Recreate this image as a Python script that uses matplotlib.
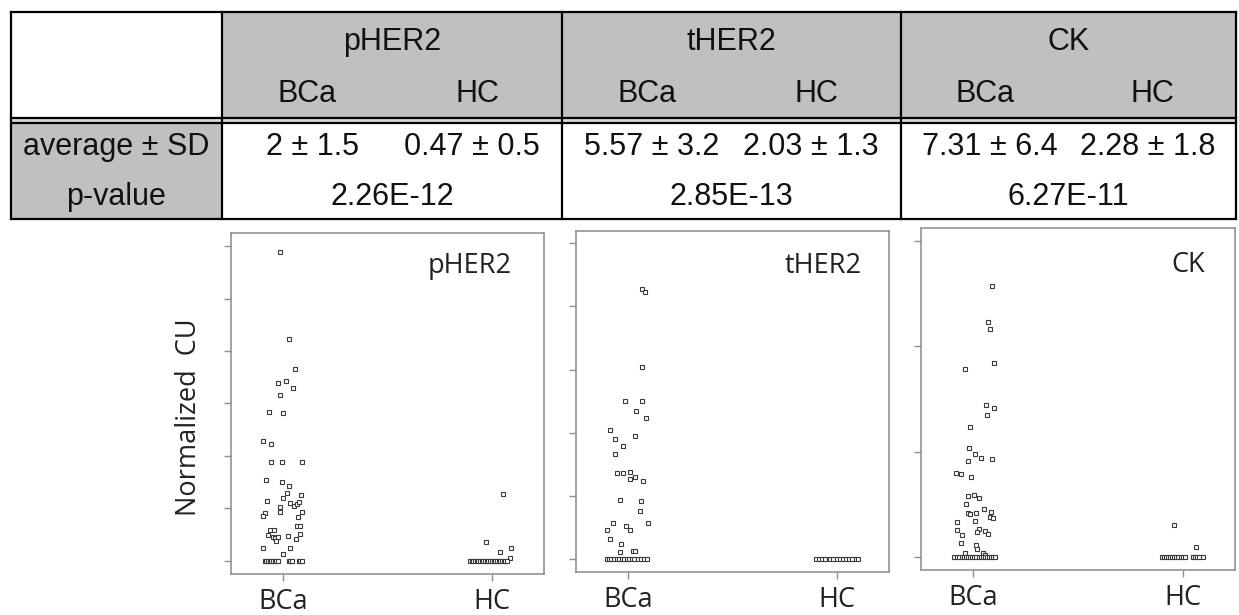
import matplotlib
matplotlib.use("Agg")
import matplotlib.pyplot as plt
from matplotlib.patches import Rectangle

# ---- table values ----
markers = ["pHER2", "tHER2", "CK"]
groups = ["BCa", "HC"]
bca_mean = [2, 5.57, 7.31]
bca_sd = [1.5, 3.2, 6.4]
hc_mean = [0.47, 2.03, 2.28]
hc_sd = [0.5, 1.3, 1.8]
p_values = ["2.26E-12", "2.85E-13", "6.27E-11"]

# ---- scatter values (y = normalized CU, jitter = horizontal offset) ----
pher2_bca_y = [5.88, 4.23, 3.66, 3.40, 3.43, 3.30, 3.17, 2.84, 2.81, 2.29, 2.22, 1.88, 1.89, 1.89,
               1.55, 1.50, 1.43, 1.30, 1.20, 1.26, 1.15, 1.11, 1.05, 1.09, 1.12, 1.03, 0.94, 0.92,
               0.86, 0.94, 0.84, 0.67, 0.66, 0.58, 0.58, 0.50, 0.46, 0.43, 0.46, 0.48, 0.51, 0.42,
               0.37, 0.24, 0.25, 0.13,
               0, 0, 0, 0, 0, 0, 0, 0, 0, 0, 0, 0, 0, 0, 0]
pher2_bca_jit = [-0.016, 0.026, 0.058, -0.027, 0.014, 0.048, -0.013, -0.070, -0.003, -0.096, -0.058,
                 -0.059, -0.005, 0.091, -0.082, -0.006, 0.029, 0.018, -0.003, 0.085, -0.078, 0.035,
                 0.051, 0.064, 0.075, -0.013, -0.013, -0.086, -0.098, 0.091, 0.069, 0.064, 0.082,
                 -0.061, -0.046, -0.072, -0.051, -0.040, -0.024, 0.024, 0.080, 0.061, -0.035,
                 -0.096, 0.035, -0.003,
                 -0.088, -0.080, -0.072, -0.064, -0.056, -0.048, -0.040, -0.032, -0.024,
                 0.027, 0.035, 0.043, 0.075, 0.083, 0.091]
pher2_hc_y = [1.28, 0.36, 0.25, 0.17, 0.05,
              0, 0, 0, 0, 0, 0, 0, 0, 0, 0, 0, 0, 0, 0, 0, 0, 0, 0, 0, 0, 0, 0, 0]
pher2_hc_jit = [0.053, -0.030, 0.094, 0.038, 0.085,
                -0.104, -0.096, -0.088, -0.080, -0.072, -0.064, -0.056, -0.048, -0.040, -0.032,
                -0.024, -0.016, -0.008, 0.000, 0.008, 0.016, 0.024, 0.032, 0.040, 0.048, 0.056,
                0.064, 0.072]

ther2_bca_y = [21.35, 21.15, 15.2, 12.55, 12.55, 11.7, 11.15, 10.2, 9.75, 9.55, 8.95, 8.35, 6.85,
               6.85, 6.9, 6.35, 6.5, 6.2, 4.7, 4.65, 3.8, 2.85, 2.9, 2.6, 2.3, 2.3, 1.6, 1.25,
               0.55, 0.65, 0.65,
               0, 0, 0, 0, 0, 0, 0, 0, 0, 0, 0, 0, 0, 0, 0, 0]
ther2_bca_jit = [0.066, 0.082, 0.066, -0.014, 0.067, 0.037, 0.085, -0.087, 0.034, -0.061, -0.027,
                 -0.063, -0.053, -0.027, 0.011, 0.008, 0.032, 0.069, -0.039, 0.061, 0.058, -0.075,
                 0.096, -0.008, 0.010, -0.100, -0.087, -0.034, -0.040, 0.024, 0.034,
                 -0.100, -0.090, -0.080, -0.066, -0.055, -0.045, -0.030, -0.020, -0.005, 0.005,
                 0.020, 0.030, 0.045, 0.060, 0.075, 0.088]
ther2_hc_y = [0, 0, 0, 0, 0, 0, 0, 0, 0, 0, 0, 0, 0, 0]
ther2_hc_jit = [-0.100, -0.085, -0.070, -0.055, -0.035, -0.020, 0.000, 0.015, 0.030, 0.045, 0.060,
                0.075, 0.090, 0.100]

ck_bca_y = [25.7, 22.3, 21.6, 18.4, 17.8, 14.4, 14.1, 13.5, 12.3, 10.3, 9.8, 9.4, 9.3, 9.1, 8.0,
            7.9, 7.6, 5.8, 5.9, 5.6, 5.0, 4.6, 4.3, 4.2, 4.1, 4.2, 3.8, 3.7, 3.3, 3.4, 2.6, 2.7,
            2.4, 2.5, 2.2, 2.1, 1.3, 1.1, 0.8, 0.4, 0.4, 0.2,
            0, 0, 0, 0, 0, 0, 0, 0, 0, 0, 0, 0, 0, 0, 0, 0, 0, 0, 0, 0]
ck_bca_jit = [0.088, 0.069, 0.079, 0.100, -0.039, 0.059, 0.098, 0.063, -0.018, -0.019, 0.006,
              0.039, 0.087, -0.024, -0.084, -0.061, -0.011, -0.024, 0.002, 0.029, -0.037, 0.051,
              0.085, -0.026, -0.014, 0.011, 0.079, 0.095, -0.077, 0.006, -0.080, 0.027, 0.018,
              0.056, 0.068, -0.055, -0.059, 0.011, 0.018, -0.040, 0.048, 0.058,
              -0.090, -0.080, -0.070, -0.055, -0.045, -0.035, -0.025, -0.015, -0.005, 0.005,
              0.015, 0.025, 0.035, 0.045, 0.055, 0.065, 0.075, 0.085, 0.095, 0.105]
ck_hc_y = [3.0, 0.95, 0, 0, 0, 0, 0, 0, 0, 0, 0, 0, 0, 0, 0, 0, 0, 0, 0]
ck_hc_jit = [-0.042, 0.066, -0.100, -0.090, -0.080, -0.070, -0.060, -0.050, -0.040, -0.030,
             -0.020, -0.010, 0.000, 0.010, 0.050, 0.060, 0.070, 0.080, 0.095]

W, H = 1239, 615
fig = plt.figure(figsize=(W / 100, H / 100), dpi=100)

# ---------------- table (drawn in pixel coordinates) ----------------
tab = fig.add_axes([0, 0, 1, 1])
tab.set_xlim(0, W)
tab.set_ylim(H, 0)
tab.axis("off")

gray = "#c0c0c0"
x0, x1 = 11, 1236
col_edges = [222, 562, 901]
top, mid1, mid2, bot = 12, 118, 123, 219
tfont = dict(family=["Liberation Sans", "DejaVu Sans"], fontsize=22, color="#111111")

tab.add_patch(Rectangle((col_edges[0], top), x1 - col_edges[0], mid1 - top, fc=gray, ec="none"))
tab.add_patch(Rectangle((x0, mid2), col_edges[0] - x0, bot - mid2, fc=gray, ec="none"))
tab.add_patch(Rectangle((x0, mid1), x1 - x0, mid2 - mid1, fc="#d8d8d8", ec="none"))

lw = 1.6
for yy in [top, mid1, mid2, bot]:
    tab.plot([x0, x1], [yy, yy], color="black", lw=lw)
for xx in [x0, x1] + col_edges:
    tab.plot([xx, xx], [top, bot], color="black", lw=lw)

tab.text((x0 + col_edges[0]) / 2, 147, "average ± SD", ha="center", va="center", **tfont)
tab.text((x0 + col_edges[0]) / 2, 197, "p-value", ha="center", va="center", **tfont)

bounds = col_edges + [x1]
for i, m in enumerate(markers):
    a, b = bounds[i], bounds[i + 1]
    c = (a + b) / 2
    q1, q3 = a + (b - a) * 0.25, a + (b - a) * 0.75
    tab.text(c, 42, m, ha="center", va="center", **tfont)
    tab.text(q1, 94, groups[0], ha="center", va="center", **tfont)
    tab.text(q3, 94, groups[1], ha="center", va="center", **tfont)
    tab.text(q1 + 5, 147, f"{bca_mean[i]:g} ± {bca_sd[i]:g}", ha="center", va="center", **tfont)
    tab.text(q3 - 5, 147, f"{hc_mean[i]:g} ± {hc_sd[i]:g}", ha="center", va="center", **tfont)
    tab.text(c, 197, p_values[i], ha="center", va="center", **tfont)

# ---------------- scatter panels ----------------
pfont = ["Open Sans", "DejaVu Sans"]
panels = [
    (markers[0], pher2_bca_y, pher2_bca_jit, pher2_hc_y, pher2_hc_jit,
     [231, 233, 313, 341], 1, (-0.25, 6.25), 6, (0.898, 0.903)),
    (markers[1], ther2_bca_y, ther2_bca_jit, ther2_hc_y, ther2_hc_jit,
     [576, 231, 313, 341], 5, (-1.0, 25.95), 5, (0.914, 0.897)),
    (markers[2], ck_bca_y, ck_bca_jit, ck_hc_y, ck_hc_jit,
     [921, 228, 314, 342], 10, (-1.23, 31.2), 3, (0.904, 0.892)),
]

for name, by, bj, hy, hj, box, step, ylim, nt, lab in panels:
    l, t, w, h = box
    ax = fig.add_axes([l / W, (H - t - h) / H, w / W, h / H])
    ax.plot([0 + j for j in bj], by, "s", ms=3.4, mfc="white", mec="#3a3a3a", mew=0.8)
    ax.plot([1 + j for j in hj], hy, "s", ms=3.4, mfc="white", mec="#3a3a3a", mew=0.8)
    ax.set_xlim(-0.25, 1.25)
    ax.set_ylim(*ylim)
    ax.set_yticks([k * step for k in range(nt + 1)])
    ax.set_yticklabels([])
    ax.set_xticks([0, 1])
    ax.set_xticklabels(groups, fontsize=19.5, family=pfont, color="#222222")
    ax.tick_params(axis="both", color="#909090", length=5, width=1)
    ax.tick_params(axis="x", pad=5)
    for s in ax.spines.values():
        s.set_color("#8a8a8a")
        s.set_linewidth(1.1)
    ax.text(lab[0], lab[1], name, transform=ax.transAxes, ha="right", va="center",
            fontsize=19.5, family=pfont, color="#222222")

fig.text(189 / W, (H - 417) / H, "Normalized  CU", rotation=90, ha="center", va="center",
         fontsize=19.5, family=pfont, color="#222222")

fig.savefig("out.png", dpi=100)
